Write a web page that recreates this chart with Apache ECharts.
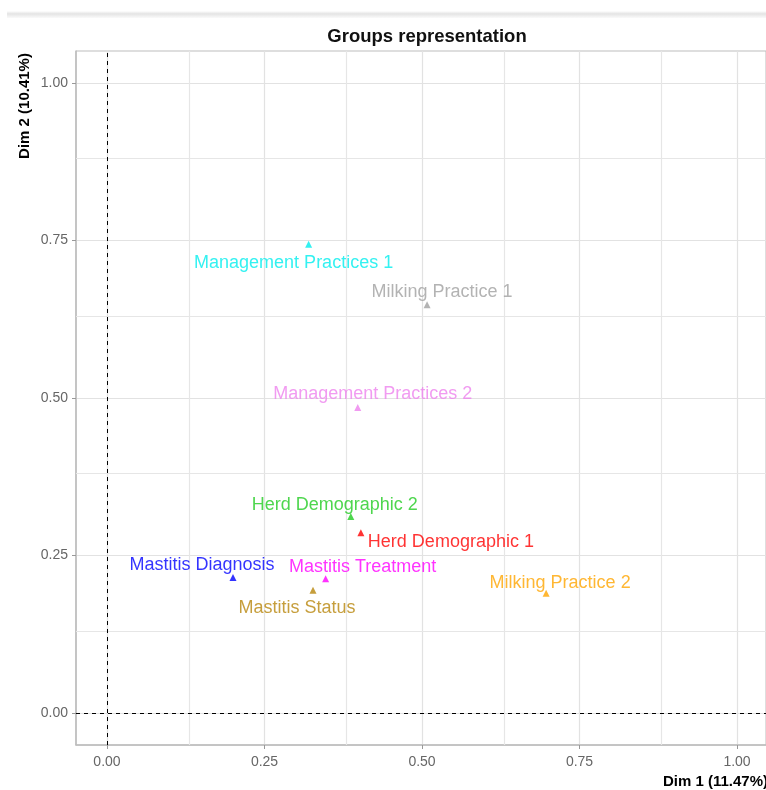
<!DOCTYPE html>
<html><head><meta charset="utf-8">
<script src="https://cdn.jsdelivr.net/npm/echarts@6/dist/echarts.min.js"></script>
<style>html,body{margin:0;padding:0;background:#fff}#c{width:766px;height:790px}</style>
</head><body><div id="c"></div>
<script>
const groupNames = ['Management Practices 1','Milking Practice 1','Management Practices 2','Herd Demographic 2','Herd Demographic 1','Mastitis Diagnosis','Mastitis Treatment','Mastitis Status','Milking Practice 2'];
const dim1 = [0.320, 0.508, 0.398, 0.387, 0.403, 0.200, 0.347, 0.327, 0.697];
const dim2 = [0.744, 0.648, 0.485, 0.312, 0.286, 0.215, 0.213, 0.195, 0.190];
const majorTicks = [0, 0.25, 0.5, 0.75, 1];
const minorTicks = [0.125, 0.375, 0.625, 0.875];
const tickLabels = ['0.00','0.25','0.50','0.75','1.00'];

const groupColors = ['#00EEEE','#A0A0A0','#EE82EE','#22CC22','#FF0000','#0000FF','#FF00FF','#B8860B','#FFA500'];
const labelOffsets = [[-15,19],[15,-13],[15,-13],[-16,-11],[90,9],[-31,-13],[37,-12],[-16,18],[14,-10]];

const chart = echarts.init(document.getElementById('c'), null, {renderer:'canvas'});
const gridCol = '#E2E2E2';
const axisCol = '#BDBDBD';
const lblFmt = v => { const i = majorTicks.indexOf(v); return i >= 0 ? tickLabels[i] : ''; };

const points = groupNames.map((n,i)=>({
  name:n, value:[dim1[i], dim2[i]],
  itemStyle:{color:groupColors[i]},
  label:{show:true, formatter:n, color:groupColors[i], position:'inside', offset:labelOffsets[i],
         fontFamily:'Liberation Sans, Arial', fontSize:18}
}));

const minorLines = [];
minorTicks.forEach(v=>{ minorLines.push({xAxis:v}); minorLines.push({yAxis:v}); });

chart.setOption({
  animation:false,
  title:{text:'Groups representation', left:422, top:22, textAlign:'center',
    textStyle:{fontFamily:'Liberation Sans, Arial', fontWeight:'bold', fontSize:18.5, color:'#111'}},
  graphic:[
    {type:'rect', left:7, top:11, shape:{width:759, height:7}, style:{fill:new echarts.graphic.LinearGradient(0,0,0,1,[{offset:0,color:'#FFFFFF'},{offset:0.4,color:'#E4E4E4'},{offset:1,color:'#FAFAFA'}])}, silent:true, z:-1},
    {type:'text', x:768, y:782, style:{text:'Dim 1 (11.47%)', font:'bold 15px "Liberation Sans", Arial', fill:'#000', textAlign:'right', textVerticalAlign:'middle'}},
    {type:'text', x:17, y:106, rotation:Math.PI/2, originX:0, originY:0, style:{text:'Dim 2 (10.41%)', font:'bold 15px "Liberation Sans", Arial', fill:'#000', textAlign:'center', textVerticalAlign:'top'}}
  ],
  grid:{left:76, right:0, top:51, bottom:45, show:true, borderColor:axisCol, borderWidth:1},
  xAxis:{type:'value', min:-0.0492, max:1.046,
    axisLine:{show:true, onZero:false, lineStyle:{color:axisCol, width:1.5}},
    axisTick:{show:true, length:4, lineStyle:{color:'#999'}, customValues:majorTicks},
    axisLabel:{customValues:majorTicks, formatter:lblFmt, color:'#666', fontSize:14, fontFamily:'Liberation Sans, Arial', margin:10},
    splitLine:{show:true, lineStyle:{color:gridCol, width:1.2}}},
  yAxis:{type:'value', min:-0.0508, max:1.051,
    axisLine:{show:true, onZero:false, lineStyle:{color:axisCol, width:1.5}},
    axisTick:{show:true, length:4, lineStyle:{color:'#999'}, customValues:majorTicks},
    axisLabel:{customValues:majorTicks, formatter:lblFmt, color:'#666', fontSize:14, fontFamily:'Liberation Sans, Arial', margin:8},
    splitLine:{show:true, lineStyle:{color:gridCol, width:1.2}}},
  series:[
    {type:'scatter', data:[], silent:true, z:1,
     markLine:{silent:true, symbol:'none', label:{show:false}, lineStyle:{color:'#E6E6E6', type:'solid', width:1.2}, data:minorLines}},
    {type:'scatter', data:[], silent:true, z:3,
     markLine:{silent:true, symbol:'none', label:{show:false}, lineStyle:{color:'#000', type:[4,4], width:1}, data:[{xAxis:0},{yAxis:0}]}},
    {type:'scatter', symbol:'triangle', symbolSize:7, data:points, z:5}
  ]
});
</script></body></html>
